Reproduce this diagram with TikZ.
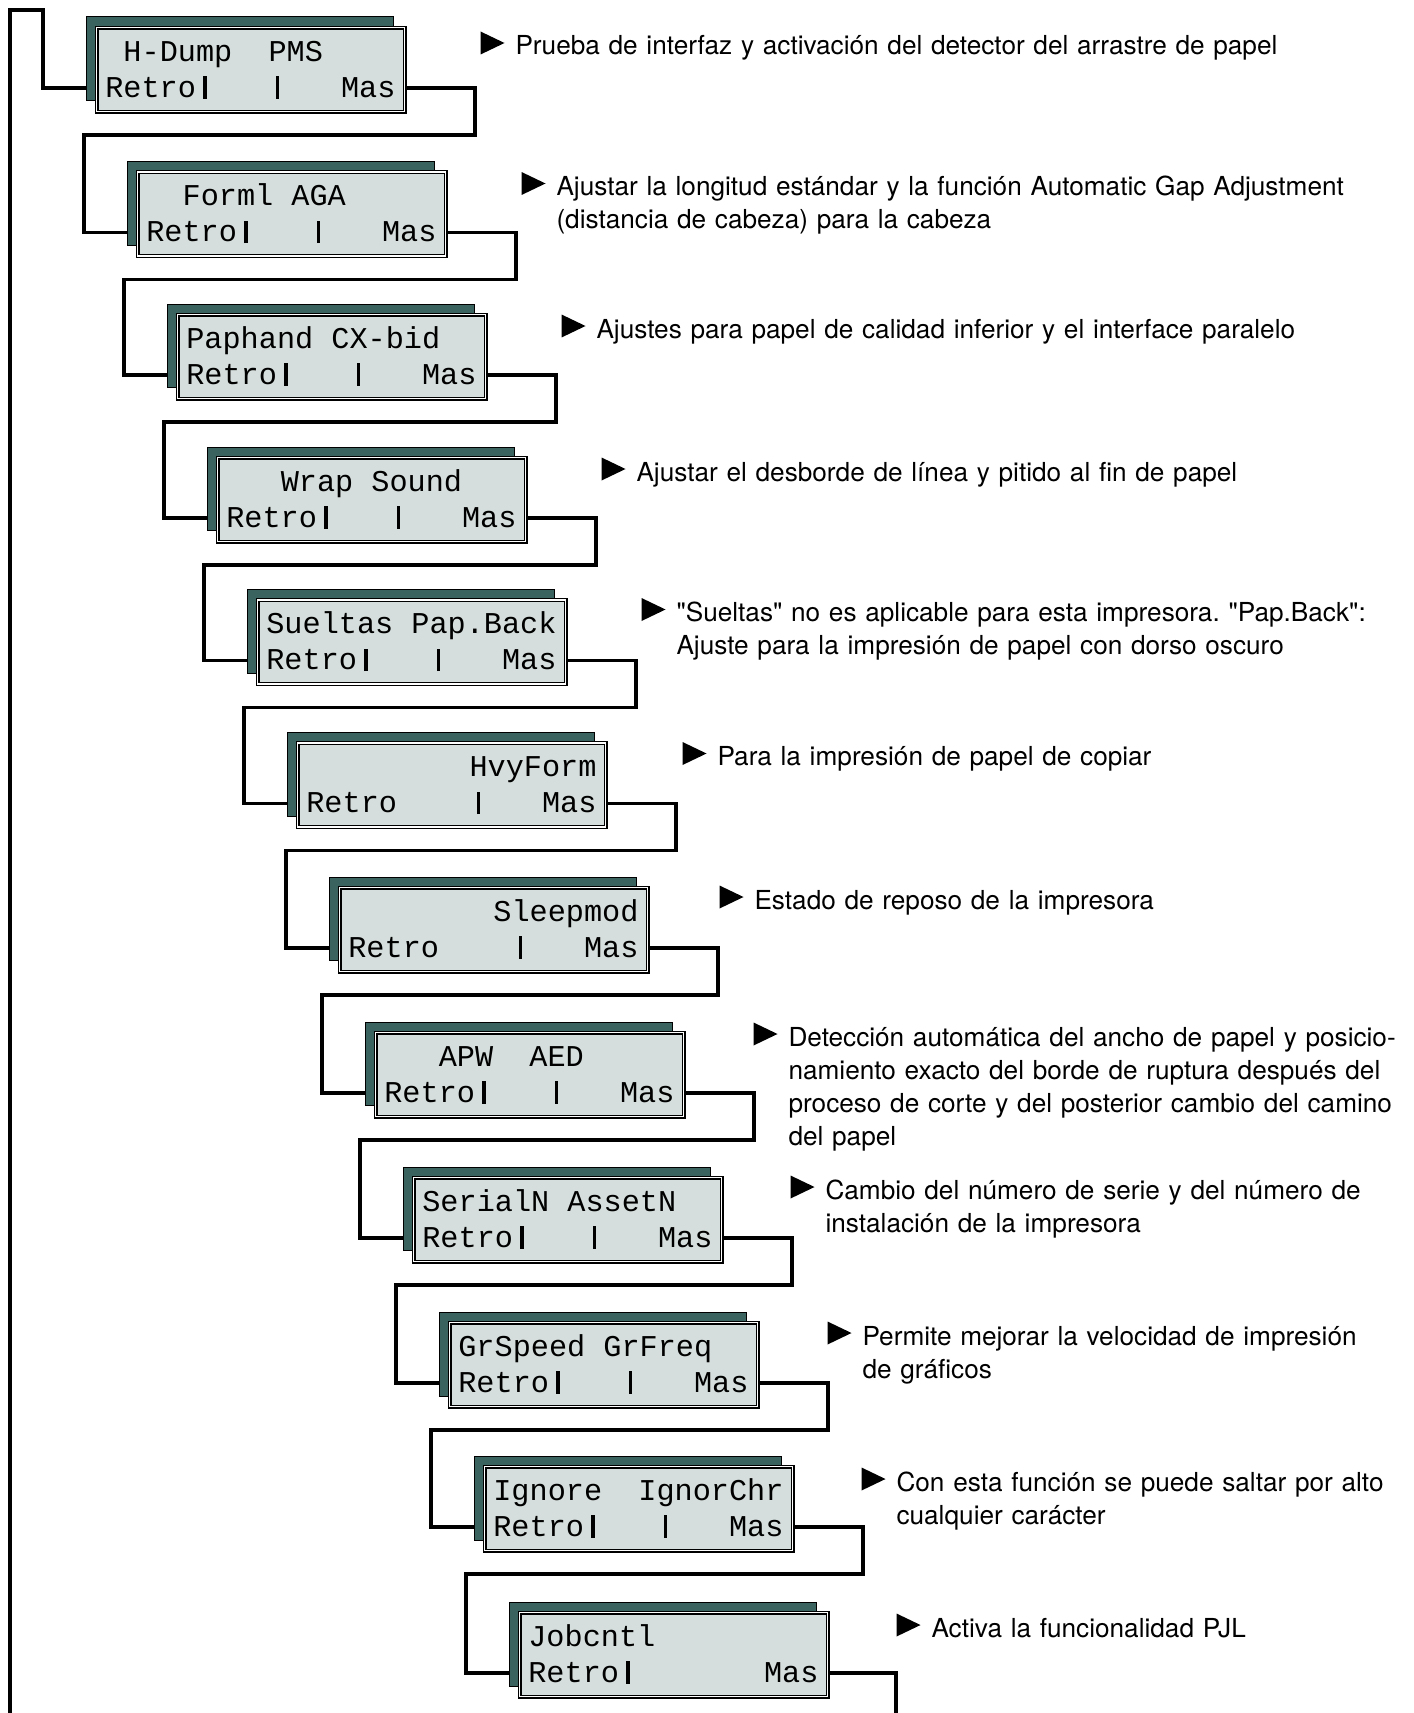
\documentclass[tikz,border=0pt]{standalone}
\usepackage{fontspec}
\usepackage{xcolor}
\definecolor{lcdgreen}{HTML}{3A635F}
\definecolor{lcdface}{HTML}{D5DEDC}
\newfontfamily\lcdfont{Liberation Mono}
\newfontfamily\notefont{TeX Gyre Heros}
\newcommand\lcdbar{\makebox[0.6em]{\rule[-0.05em]{0.12em}{0.74em}}}
\usepackage{tikz}
\usetikzlibrary{positioning,calc,shapes.geometric}
\tikzset{
  lcdback/.style={draw=black,fill=lcdgreen,line width=0.5pt,anchor=north west,
                  minimum width=6.16cm,minimum height=1.68cm,inner sep=0pt},
  lcd/.style    ={draw=black,double=white,double distance=0.9pt,line width=0.7pt,
                  fill=lcdface,anchor=north west,minimum width=6.16cm,
                  minimum height=1.68cm,inner sep=0pt},
  lcdrow/.style ={font=\lcdfont\fontsize{17.2pt}{20pt}\selectfont,anchor=base west,
                  inner sep=0pt},
  notetri/.style={isosceles triangle,isosceles triangle stretches,fill=black,
                  inner sep=0pt,minimum width=0.46cm,minimum height=0.48cm,
                  anchor=lower side},
  note/.style   ={font=\notefont\fontsize{14.9pt}{18.8pt}\selectfont\frenchspacing,
                  anchor=base west,align=left,text width=20cm,inner sep=0pt},
  wire/.style   ={draw=black,line width=2.1pt},
}
\begin{document}
\begin{tikzpicture}[x=0.02cm,y=-0.02cm]
\useasboundingbox (0,0) rectangle (1413,1713);
% lcd panels and their notes
\foreach \i/\x/\y/\tx/\ty/\rowa/\rowb/\desc in {
  1/96/27/75/16/{~H-Dump~~PMS}/{Retro\lcdbar~~~\lcdbar~~~Mas}/{Prueba de interfaz y activación del detector del arrastre de papel},
  2/137/171.5/75/12/{~~Forml~AGA}/{Retro\lcdbar~~~\lcdbar~~~Mas}/{Ajustar la longitud estándar y la función Automatic Gap Adjustment\\(distancia de cabeza) para la cabeza},
  3/177/314/75/12/{Paphand~CX-bid}/{Retro\lcdbar~~~\lcdbar~~~Mas}/{Ajustes para papel de calidad inferior y el interface paralelo},
  4/217/457/75/12/{~~~Wrap~Sound}/{Retro\lcdbar~~~\lcdbar~~~Mas}/{Ajustar el desborde de línea y pitido al fin de papel},
  5/257/599.5/75/10/{Sueltas~Pap.Back}/{Retro\lcdbar~~~\lcdbar~~~Mas}/{"Sueltas" no es aplicable para esta impresora. "Pap.Back":\\Ajuste para la impresión de papel con dorso oscuro},
  6/297/742.5/76/11/{~~~~~~~~~HvyForm}/{Retro~~~~\lcdbar~~~Mas}/{Para la impresión de papel de copiar},
  7/339/887/71/10/{~~~~~~~~Sleepmod}/{Retro~~~~\lcdbar~~~Mas}/{Estado de reposo de la impresora},
  8/375/1032/69/2/{~~~APW~~AED}/{Retro\lcdbar~~~\lcdbar~~~Mas}/{Detección automática del ancho de papel y posicio-\\namiento exacto del borde de ruptura después del\\proceso de corte y del posterior cambio del camino\\del papel},
  9/413/1177/68/10/{SerialN~AssetN}/{Retro\lcdbar~~~\lcdbar~~~Mas}/{Cambio del número de serie y del número de\\instalación de la impresora},
  10/449/1322/69/11/{GrSpeed~GrFreq}/{Retro\lcdbar~~~\lcdbar~~~Mas}/{Permite mejorar la velocidad de impresión\\de gráficos},
  11/484/1466/68/13/{Ignore~~IgnorChr}/{Retro\lcdbar~~~\lcdbar~~~Mas}/{Con esta función se puede saltar por alto\\cualquier carácter},
  12/519/1612/68/13/{Jobcntl}/{Retro\lcdbar~~~~~~~Mas}/{Activa la funcionalidad PJL}}
{
  \node[lcdback] (back\i) at (\x-10.5,\y-10.5) {};
  \node[lcd] (lcd\i) at (\x,\y) {};
  \node[lcdrow] (rowa\i) at ($(lcd\i.north west)+(9,34.2)$) {\rowa};
  \node[lcdrow] (rowb\i) at ($(lcd\i.north west)+(9,70.2)$) {\rowb};
  \coordinate (in\i) at ($(back\i.north west)+(0,71.5)$);
  \coordinate (out\i) at ($(lcd\i.north east)+(0,61)$);
  \node[notetri] (tri\i) at ($(lcd\i.north east)+(\tx,\ty)$) {};
  \node[note] (note\i) at ($(tri\i.lower side)+(35,12)$) {\desc};
}
% wiring
\coordinate (loopstart) at (10,1713);
\draw[wire] (loopstart) |- ($(in1)+(-42.5,-78)$) |- (in1);
\foreach \i [count=\j from 2] in {1,...,11}
  \draw[wire] (out\i) -| ($(out\i)+(70,47)$) -| ($(in\j)+(-42.5,0)$) -- (in\j);
\coordinate (loopend) at ($(out12)+(68,60)$);
\draw[wire] (out12) -| (loopend);
\end{tikzpicture}
\end{document}
